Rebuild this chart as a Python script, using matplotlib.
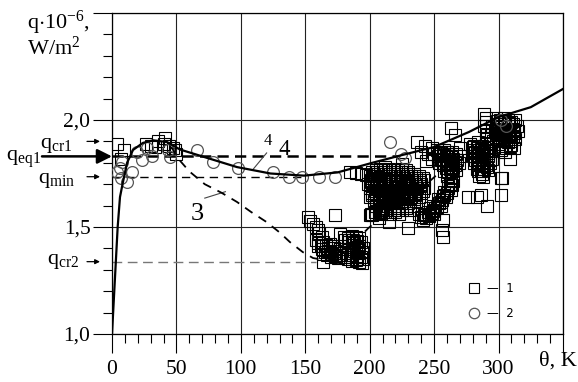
import matplotlib
matplotlib.use('Agg')
import matplotlib.pyplot as plt
from matplotlib.ticker import FixedLocator, MultipleLocator, FixedFormatter
from matplotlib.lines import Line2D

plt.rcParams['font.family'] = ['Liberation Serif', 'DejaVu Serif']
plt.rcParams['mathtext.fontset'] = 'custom'
plt.rcParams['mathtext.rm'] = 'Liberation Serif'
plt.rcParams['mathtext.it'] = 'Liberation Serif:italic'

# ---------------- data ----------------
# curve 4 (solid)
c4_theta = [0, 2.2, 4.4, 6.2, 8.5, 11.7, 16.3, 24, 32, 42.7, 52.8, 70, 97, 123, 149, 175,
            202, 225, 250, 277, 300, 325, 350]
c4_q = [1.0, 1.25, 1.5, 1.64, 1.71, 1.80, 1.86, 1.893, 1.905, 1.897, 1.862, 1.83, 1.78,
        1.75, 1.74, 1.755, 1.80, 1.836, 1.874, 1.944, 2.014, 2.06, 2.145]
# curve 3 (dashed)
c3_theta = [46, 51, 60, 72, 85, 97, 108, 120, 130, 138, 148, 156, 165, 178, 190, 199,
            212, 225, 238, 245, 252, 257, 262]
c3_q = [1.875, 1.822, 1.76, 1.70, 1.66, 1.617, 1.57, 1.523, 1.475, 1.43, 1.383, 1.355,
        1.345, 1.39, 1.44, 1.495, 1.56, 1.62, 1.675, 1.706, 1.743, 1.776, 1.83]

# characteristic levels
q_eq1, q_cr1, q_min, q_cr2 = 1.83, 1.90, 1.735, 1.338
eq1_end, min_end, cr2_end = 222, 150, 158

# series 1 (squares), by cluster
sq_A = [(4, 1.89), (9, 1.86), (7, 1.82), (26, 1.89), (30, 1.88), (33, 1.875), (36, 1.90),
        (41, 1.915), (40, 1.89), (44, 1.88), (47, 1.87), (49, 1.86), (50, 1.84)]
sq_row = [(185, 1.757), (189, 1.752), (193, 1.75), (197, 1.745)]
sq_B = [(152, 1.545), (154, 1.53), (156, 1.515), (158, 1.50), (160, 1.485), (161, 1.47),
        (163, 1.455), (173, 1.557), (164, 1.335),
        (158, 1.44), (160, 1.425), (162, 1.41), (164, 1.43), (166, 1.415), (168, 1.40),
        (163, 1.395), (165, 1.385), (167, 1.37), (169, 1.385), (171, 1.375), (170, 1.36),
        (172, 1.40), (174, 1.39), (176, 1.38), (173, 1.365), (175, 1.355), (178, 1.37),
        (177, 1.395), (169, 1.42), (171, 1.41),
        (177, 1.465), (180, 1.455), (183, 1.45), (186, 1.46), (189, 1.455), (192, 1.45),
        (181, 1.44), (184, 1.43), (187, 1.44), (190, 1.435), (193, 1.43), (186, 1.415),
        (189, 1.405), (192, 1.41), (195, 1.40), (188, 1.39), (191, 1.38), (194, 1.385),
        (190, 1.365), (193, 1.36), (195, 1.35), (189, 1.345), (192, 1.335), (194, 1.33),
        (183, 1.35), (186, 1.34), (180, 1.36)]
sq_B2 = [(160, 1.41), (164, 1.375), (168, 1.39), (172, 1.38), (176, 1.37), (180, 1.38),
         (184, 1.44), (188, 1.425), (191, 1.395), (182, 1.37), (186, 1.36), (190, 1.35)]
sq_C1 = [(208, 1.77), (215, 1.77), (225, 1.77), (225, 1.795), (212, 1.78),
         (202, 1.755), (206, 1.755), (212, 1.755), (218, 1.755), (224, 1.755), (230, 1.755),
         (200, 1.74), (204, 1.74), (209, 1.74), (214, 1.74), (220, 1.74), (226, 1.74),
         (232, 1.74), (238, 1.74),
         (201, 1.72), (206, 1.72), (211, 1.72), (216, 1.72), (221, 1.72), (227, 1.72),
         (233, 1.72), (239, 1.72), (242, 1.72),
         (199, 1.70), (203, 1.70), (208, 1.70), (213, 1.70), (218, 1.70), (224, 1.70),
         (229, 1.70), (235, 1.70), (240, 1.70),
         (200, 1.68), (205, 1.68), (210, 1.68), (215, 1.68), (220, 1.68), (226, 1.68),
         (231, 1.68), (237, 1.68), (242, 1.68),
         (202, 1.66), (207, 1.66), (212, 1.66), (217, 1.66), (223, 1.66), (228, 1.66),
         (234, 1.66), (240, 1.66),
         (200, 1.64), (205, 1.64), (210, 1.64), (215, 1.64), (221, 1.64), (226, 1.64),
         (232, 1.64), (238, 1.64),
         (203, 1.62), (208, 1.62), (214, 1.62), (219, 1.62), (225, 1.62), (231, 1.62),
         (236, 1.62),
         (205, 1.60), (210, 1.60), (216, 1.60), (222, 1.60), (228, 1.60), (234, 1.60),
         (207, 1.58), (213, 1.58), (219, 1.58), (225, 1.58), (231, 1.58),
         (201, 1.56), (209, 1.56), (216, 1.56), (223, 1.56),
         (200, 1.556), (207, 1.54), (215, 1.525), (230, 1.495)]
sq_C1b = [(205, 1.765), (210, 1.765), (218, 1.765), (222, 1.765), (228, 1.765),
          (203, 1.748), (208, 1.748), (216, 1.748), (222, 1.748), (228, 1.748), (234, 1.748),
          (202, 1.73), (207, 1.73), (212, 1.73), (218, 1.73), (224, 1.73), (230, 1.73),
          (236, 1.73), (241, 1.73),
          (201, 1.71), (206, 1.71), (211, 1.71), (216, 1.71), (222, 1.71), (227, 1.71),
          (233, 1.71), (238, 1.71),
          (202, 1.69), (207, 1.69), (212, 1.69), (217, 1.69), (223, 1.69), (228, 1.69),
          (233, 1.69), (239, 1.69),
          (204, 1.67), (209, 1.67), (214, 1.67), (219, 1.67), (225, 1.67), (230, 1.67),
          (236, 1.67), (241, 1.67),
          (202, 1.65), (207, 1.65), (213, 1.65), (218, 1.65), (224, 1.65), (229, 1.65),
          (235, 1.65),
          (205, 1.63), (211, 1.63), (216, 1.63), (222, 1.63), (228, 1.63), (234, 1.63),
          (207, 1.61), (212, 1.61), (218, 1.61), (224, 1.61), (230, 1.61),
          (210, 1.59), (216, 1.59), (222, 1.59), (228, 1.59),
          (204, 1.57), (212, 1.57), (220, 1.57)]
sq_C2 = [(238, 1.56), (240, 1.545), (242, 1.555), (244, 1.54), (246, 1.55), (245, 1.57),
         (248, 1.565), (250, 1.58), (249, 1.60), (252, 1.595), (254, 1.61), (253, 1.63),
         (256, 1.625), (257, 1.645), (259, 1.64), (258, 1.665), (260, 1.66), (261, 1.68),
         (263, 1.675), (262, 1.70), (264, 1.695), (265, 1.715), (263, 1.72), (250, 1.56),
         (247, 1.59), (255, 1.60), (241, 1.535), (246, 1.555), (251, 1.59), (255, 1.615),
         (258, 1.65), (261, 1.69), (243, 1.56), (249, 1.575)]
sq_D1 = [(252, 1.86), (255, 1.85), (258, 1.86), (261, 1.84), (264, 1.85), (267, 1.84),
         (253, 1.83), (256, 1.82), (259, 1.83), (262, 1.81), (265, 1.82), (268, 1.815),
         (270, 1.83), (254, 1.80), (257, 1.79), (260, 1.79), (263, 1.78), (266, 1.79),
         (269, 1.80), (258, 1.76), (261, 1.755), (264, 1.76), (267, 1.765), (260, 1.74),
         (263, 1.735), (254, 1.845), (257, 1.835), (260, 1.85), (263, 1.825),
         (266, 1.805), (255, 1.815), (258, 1.80), (261, 1.80), (264, 1.795), (259, 1.775),
         (262, 1.77), (265, 1.775)]
sq_D2 = [(278, 1.89), (281, 1.88), (284, 1.895), (287, 1.88), (290, 1.89), (279, 1.86),
         (282, 1.85), (285, 1.86), (288, 1.85), (291, 1.86), (294, 1.855), (280, 1.83),
         (283, 1.82), (286, 1.83), (289, 1.82), (292, 1.83), (295, 1.82), (281, 1.80),
         (284, 1.79), (287, 1.80), (290, 1.79), (293, 1.80), (283, 1.77), (286, 1.76),
         (289, 1.77), (292, 1.765), (285, 1.74), (288, 1.735), (280, 1.875), (283, 1.87),
         (286, 1.865), (289, 1.87), (292, 1.845), (281, 1.845), (284, 1.835), (287, 1.84),
         (290, 1.835), (293, 1.815), (282, 1.815), (285, 1.805), (288, 1.785),
         (291, 1.78), (284, 1.76), (287, 1.75)]
sq_E = [(289, 2.03), (290, 2.01), (290, 1.99), (289, 1.97), (290, 1.95), (291, 1.93),
        (290, 1.91), (298, 2.01), (301, 2.00), (304, 2.01), (307, 2.00), (310, 1.99),
        (313, 2.00), (299, 1.98), (302, 1.97), (305, 1.98), (308, 1.97), (311, 1.96),
        (314, 1.97), (297, 1.95), (300, 1.94), (303, 1.95), (306, 1.94), (309, 1.93),
        (312, 1.94), (315, 1.95), (298, 1.92), (301, 1.91), (304, 1.92), (307, 1.91),
        (310, 1.90), (313, 1.91), (300, 1.89), (303, 1.88), (306, 1.87), (309, 1.88),
        (312, 1.87), (302, 1.86), (305, 1.85), (296, 1.90), (294, 1.93), (295, 1.97),
        (299, 1.995), (302, 1.99), (305, 1.995), (308, 1.985), (311, 1.98), (300, 1.965),
        (303, 1.96), (306, 1.955), (309, 1.95), (312, 1.955), (299, 1.935), (302, 1.93),
        (305, 1.935), (308, 1.925), (311, 1.92), (301, 1.90), (304, 1.90), (307, 1.895),
        (310, 1.885)]
sq_scatter = [(237, 1.897), (263, 1.963), (266.5, 1.93), (270, 1.87), (276, 1.64),
              (283.6, 1.64), (291, 1.60), (301.5, 1.65), (303, 1.73), (309, 1.82),
              (301.5, 1.73), (257, 1.533), (257, 1.453), (256, 1.486), (202, 1.556),
              (208, 1.565), (286, 1.65), (243, 1.88), (248, 1.87), (240, 1.85),
              (245, 1.84), (248, 1.82), (244, 1.81), (250, 1.84)]

# series 2 (circles)
circles = [(3.9, 1.757), (7, 1.729), (11.7, 1.71), (15.5, 1.757), (7.8, 1.804),
           (6.2, 1.776), (19.4, 1.85), (23.3, 1.813), (27.2, 1.869), (31, 1.832),
           (43.5, 1.86), (45, 1.827), (66, 1.86), (78.5, 1.804), (98, 1.776),
           (125, 1.757), (137.5, 1.734), (147.6, 1.734), (161, 1.734), (173, 1.734),
           (216, 1.897), (224, 1.841), (227, 1.822), (302, 2.0), (306, 1.97)]

x_major = [0, 50, 100, 150, 200, 250, 300, 350]
x_labels = ['0', '50', '100', '150', '200', '250', '300', '']
y_major = [1.0, 1.5, 2.0, 2.5]
y_labels = ['1,0', '1,5', '2,0', '']

# ---------------- figure ----------------
W, H = 578, 382
fig = plt.figure(figsize=(W / 100, H / 100), dpi=100)
ax = fig.add_axes([112 / W, 1 - 334 / H, 451 / W, 321 / H])
ax.set_xlim(0, 350)
ax.set_ylim(1.0, 2.5)

ax.xaxis.set_major_locator(FixedLocator(x_major))
ax.xaxis.set_major_formatter(FixedFormatter(x_labels))
ax.xaxis.set_minor_locator(MultipleLocator(10))
ax.yaxis.set_major_locator(FixedLocator(y_major))
ax.yaxis.set_major_formatter(FixedFormatter(y_labels))
ax.yaxis.set_minor_locator(MultipleLocator(0.1))
ax.tick_params(which='major', direction='out', length=13.5, width=0.8, labelsize=15.5)
ax.tick_params(which='minor', direction='out', length=6.5, width=0.8)
ax.tick_params(axis='y', which='major', pad=2)
ax.tick_params(axis='x', which='major', pad=5)
for s in ax.spines.values():
    s.set_linewidth(0.9)
ax.grid(True, which='major', color='#222222', lw=0.8)
ax.set_axisbelow(True)

# reference levels
ax.plot([0, eq1_end], [q_eq1, q_eq1], color='k', lw=1.8, ls=(0, (4.5, 2.5)), zorder=2)
ax.plot([0, min_end], [q_min, q_min], color='k', lw=1.0, ls=(0, (6, 4)), zorder=2)
ax.plot([0, cr2_end], [q_cr2, q_cr2], color='#777777', lw=1.0, ls=(0, (7, 4)), zorder=2)

# curves
ax.plot(c4_theta, c4_q, color='k', lw=1.6, zorder=4)
ax.plot(c3_theta, c3_q, color='k', lw=1.3, ls=(0, (5, 4)), zorder=4)

# data points
sq_all = sq_A + sq_row + sq_B + sq_B2 + sq_C1 + sq_C1b + sq_C2 + sq_D1 + sq_D2 + sq_E + sq_scatter
ax.plot([p[0] for p in sq_all], [p[1] for p in sq_all], 's', mfc='none', mec='k',
        ms=8, mew=0.8, zorder=3)
ax.plot([p[0] for p in circles], [p[1] for p in circles], 'o', mfc='none', mec='#555555',
        ms=8.5, mew=0.9, zorder=3)

# legend
h1 = Line2D([], [], marker='s', ls='none', mfc='none', mec='k', ms=7.5, mew=0.8)
h2 = Line2D([], [], marker='o', ls='none', mfc='none', mec='#555555', ms=7.5, mew=0.9)
ax.legend([h1, h2], ['\u2014  1', '\u2014  2'], frameon=False, loc='lower left',
          bbox_to_anchor=(0.765, 0.01), prop={'family': 'DejaVu Sans', 'size': 8.5},
          handletextpad=0.6, labelspacing=1.0, handlelength=1.0)

# curve labels
ax.text(66.5, 1.56, '3', fontsize=19, ha='center', va='center')
ax.text(121, 1.902, '4', fontsize=12, ha='center', va='center')
ax.text(133.6, 1.862, '4', fontsize=16.5, ha='center', va='center')
ax.plot([72, 88], [1.635, 1.665], color='#444444', lw=0.8)
ax.plot([109, 120], [1.766, 1.846], color='#444444', lw=0.8)

# arrows on the left
ax.annotate('', xy=(0, q_eq1), xycoords='data', xytext=(-70 / 451, q_eq1),
            textcoords=('axes fraction', 'data'),
            arrowprops=dict(arrowstyle='-|>', mutation_scale=22, lw=1.8, color='k',
                            shrinkA=0, shrinkB=0), annotation_clip=False)
for lev in (q_cr1, q_min, q_cr2):
    ax.annotate('', xy=(-12 / 451, lev), xycoords=('axes fraction', 'data'),
                xytext=(-25 / 451, lev), textcoords=('axes fraction', 'data'),
                arrowprops=dict(arrowstyle='-|>', mutation_scale=7, lw=0.9, color='k',
                                shrinkA=0, shrinkB=0), annotation_clip=False)

def ftext(px, py, s, **kw):
    fig.text(px / W, 1 - py / H, s, **kw)

ftext(6, 161, r'q$_{\mathrm{eq1}}$', fontsize=16, ha='left', va='baseline')
ftext(40, 148, r'q$_{\mathrm{cr1}}$', fontsize=16, ha='left', va='baseline')
ftext(38, 183, r'q$_{\mathrm{min}}$', fontsize=16, ha='left', va='baseline')
ftext(47, 264, r'q$_{\mathrm{cr2}}$', fontsize=16, ha='left', va='baseline')
ftext(27, 9, 'q$\\cdot$10$^{\\mathrm{-6}}$,\nW/m$^{\\mathrm{2}}$', fontsize=16,
      ha='left', va='top', linespacing=0.95)
ftext(577, 366, '\u03b8, K', fontsize=16, ha='right', va='baseline')

fig.savefig('out.png', dpi=100)
